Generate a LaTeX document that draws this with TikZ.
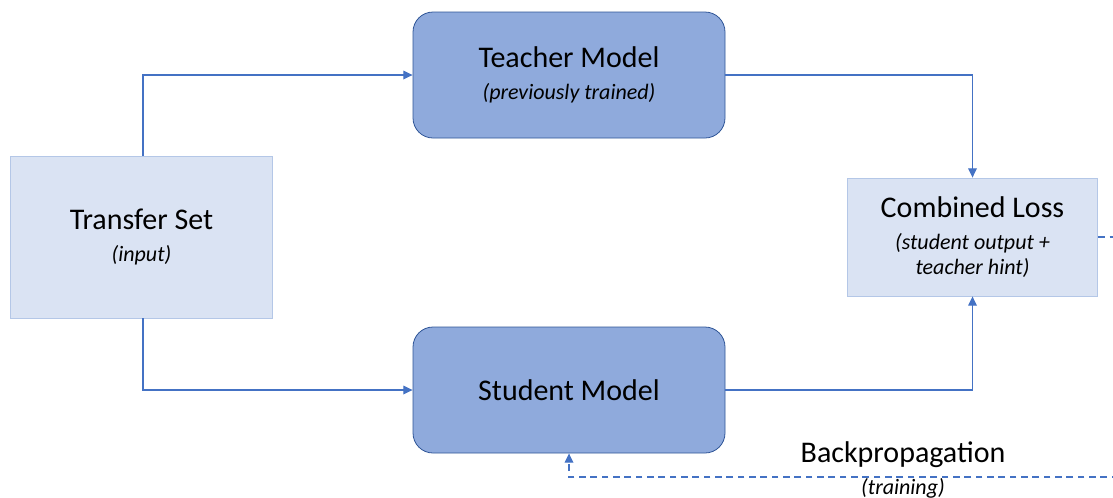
\documentclass[tikz,border=0pt]{standalone}
\usepackage{fontspec}
\setmainfont{Carlito}
\usepackage{xcolor}
\usetikzlibrary{arrows.meta, calc}

\definecolor{lightbox}{HTML}{DAE3F3}
\definecolor{lightedge}{HTML}{B4C7E7}
\definecolor{modelbox}{HTML}{8FAADC}
\definecolor{modeledge}{HTML}{2F5597}
\definecolor{flow}{HTML}{4472C4}

\newcommand{\ttl}[1]{{\fontsize{22.5}{27}\selectfont #1}}
\newcommand{\sub}[1]{{\fontsize{16.5}{19}\selectfont\itshape #1}}

\begin{document}
\begin{tikzpicture}[x=0.75pt, y=-0.75pt,
  every node/.style={font=\fontsize{16.5}{19}\selectfont},
  plain/.style={draw=lightedge, fill=lightbox, line width=0.6pt, align=center, inner sep=0pt},
  model/.style={draw=modeledge, fill=modelbox, line width=0.6pt, rounded corners=15pt,
    minimum width=234pt, minimum height=94.5pt, align=center, inner sep=0pt},
  link/.style={draw=flow, line width=0.9pt, -{Triangle[length=7pt, width=6.5pt]}}]
\useasboundingbox (0,0) rectangle (1113,497);
\clip (0,0) rectangle (1113,497);

\node[plain, minimum width=197pt, minimum height=121.5pt] (T) at (141.5,237)
  {\ttl{Transfer Set}\\[5pt]\sub{(input)}};
\node[model] (Tm) at (569,75) {\ttl{Teacher Model}\\[5pt]\sub{(previously trained)}};
\node[model] (Sm) at (569,390) {\ttl{Student Model}};
\node[plain, minimum width=188pt, minimum height=88.5pt] (L) at (972.5,237)
  {\ttl{Combined Loss}\\[5pt]\sub{(student output +}\\\sub{teacher hint)}};

\draw[link] (T.north -| 143,0) |- (Tm.west);
\draw[link] (T.south -| 143,0) |- (Sm.west);
\draw[link] (Tm.east) -| (L.north);
\draw[link] (Sm.east) -| (L.south);

% loss fed back to the student
\coordinate (far) at (1130,477);
\draw[link, dashed, dash pattern=on 5pt off 3.5pt] (L.east) -| (far) -- (569,477) -- (Sm.south);
\node (bp) at (903,455) {\ttl{Backpropagation}};
\node[below=0pt] (tr) at (903,474) {\sub{(training)}};
\end{tikzpicture}
\end{document}
